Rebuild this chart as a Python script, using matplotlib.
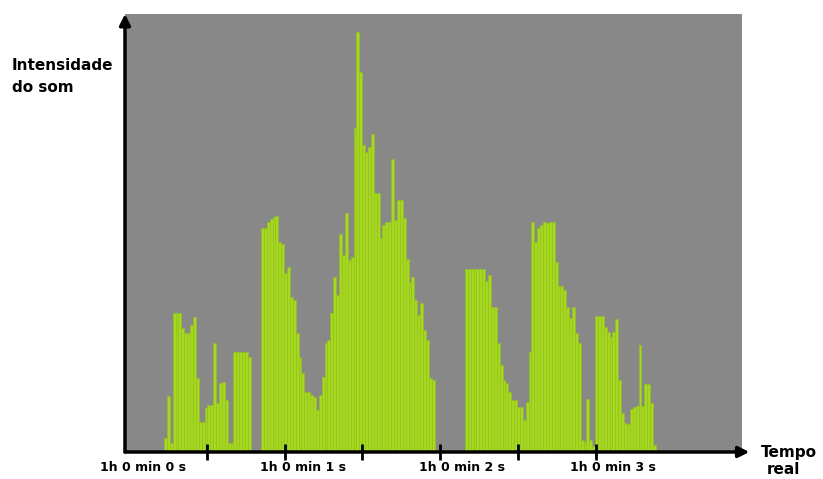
import matplotlib.pyplot as plt
import numpy as np

# sound intensity per analysis frame, three voiced stretches
SEG_A = [14, 56, 9, 139, 139, 139, 124, 119, 119, 127, 135, 74, 30, 30, 44,
         47, 47, 109, 49, 69, 70, 52, 9, 9, 100, 100, 100, 100, 100, 95]
SEG_B = [224, 224, 230, 233, 235, 236, 210, 208, 179, 185, 155, 152, 119, 95,
         79, 60, 60, 57, 55, 42, 57, 75, 109, 112, 139, 175, 157, 218, 197,
         239, 192, 195, 324, 420, 380, 307, 300, 305, 318, 259, 259, 214, 227,
         230, 230, 293, 232, 252, 252, 234, 193, 170, 175, 152, 137, 149, 122,
         112, 74, 72]
SEG_C = [183, 183, 183, 183, 183, 183, 183, 171, 177, 145, 145, 109, 87, 72,
         69, 60, 52, 52, 45, 45, 32, 50, 100, 230, 210, 224, 227, 230, 229,
         230, 230, 190, 166, 166, 162, 145, 134, 145, 119, 109, 12, 10, 53, 12,
         6, 136, 136, 136, 125, 120, 115, 120, 133, 72, 39, 29, 28, 43, 45, 46,
         107, 46, 68, 68, 49, 7]
SEG_START = [0.225, 0.848, 2.159]  # seconds
FRAME = 0.0186  # seconds per frame

TICKS = [0.5, 1.0, 1.5, 2.0, 2.5, 3.0]
LABEL_POS = [0.09, 1.12, 2.14, 3.11]
LABELS = ["1h 0 min 0 s", "1h 0 min 1 s", "1h 0 min 2 s", "1h 0 min 3 s"]

FONT = ["Liberation Sans Narrow", "DejaVu Sans"]

fig = plt.figure(figsize=(8.23, 4.79), dpi=100)
ax = fig.add_axes([125 / 823, 27 / 479, 617 / 823, 438 / 479])
ax.set_facecolor("#888888")

for start, seg in zip(SEG_START, [SEG_A, SEG_B, SEG_C]):
    x = start + FRAME * np.arange(len(seg))
    ax.bar(x, seg, width=FRAME, align="edge", color="#a6d81f",
           edgecolor="#93c31a", linewidth=0.4)

ax.set_xlim(-0.0257, 3.94)
ax.set_ylim(0, 438)
for s in ax.spines.values():
    s.set_visible(False)
ax.set_yticks([])
ax.set_xticks(TICKS)
ax.set_xticklabels([])
ax.tick_params(axis="x", direction="inout", length=11, width=2, color="black")

for pos, lab in zip(LABEL_POS, LABELS):
    ax.text(pos, -0.035, lab, transform=ax.get_xaxis_transform(),
            ha="center", va="center", fontsize=9, fontweight="bold",
            family=FONT)

# axis arrows
ax.annotate("", xy=(1.012, 0), xytext=(0, 0), xycoords="axes fraction",
            arrowprops=dict(arrowstyle="-|>", lw=2.5, color="black",
                            mutation_scale=16, shrinkA=0, shrinkB=0),
            annotation_clip=False)
ax.annotate("", xy=(0, 1.0), xytext=(0, 0), xycoords="axes fraction",
            arrowprops=dict(arrowstyle="-|>", lw=2.5, color="black",
                            mutation_scale=16, shrinkA=0, shrinkB=0),
            annotation_clip=False)

fig.text(12 / 823, 1 - 65 / 479, "Intensidade", fontsize=11,
         fontweight="bold", family=FONT, ha="left", va="center")
fig.text(12 / 823, 1 - 88 / 479, "do som", fontsize=11,
         fontweight="bold", family=FONT, ha="left", va="center")
fig.text(789 / 823, 1 - 452 / 479, "Tempo", fontsize=11,
         fontweight="bold", family=FONT, ha="center", va="center")
fig.text(783 / 823, 1 - 470 / 479, "real", fontsize=11,
         fontweight="bold", family=FONT, ha="center", va="center")

fig.savefig("out.png", dpi=100, facecolor="white")
